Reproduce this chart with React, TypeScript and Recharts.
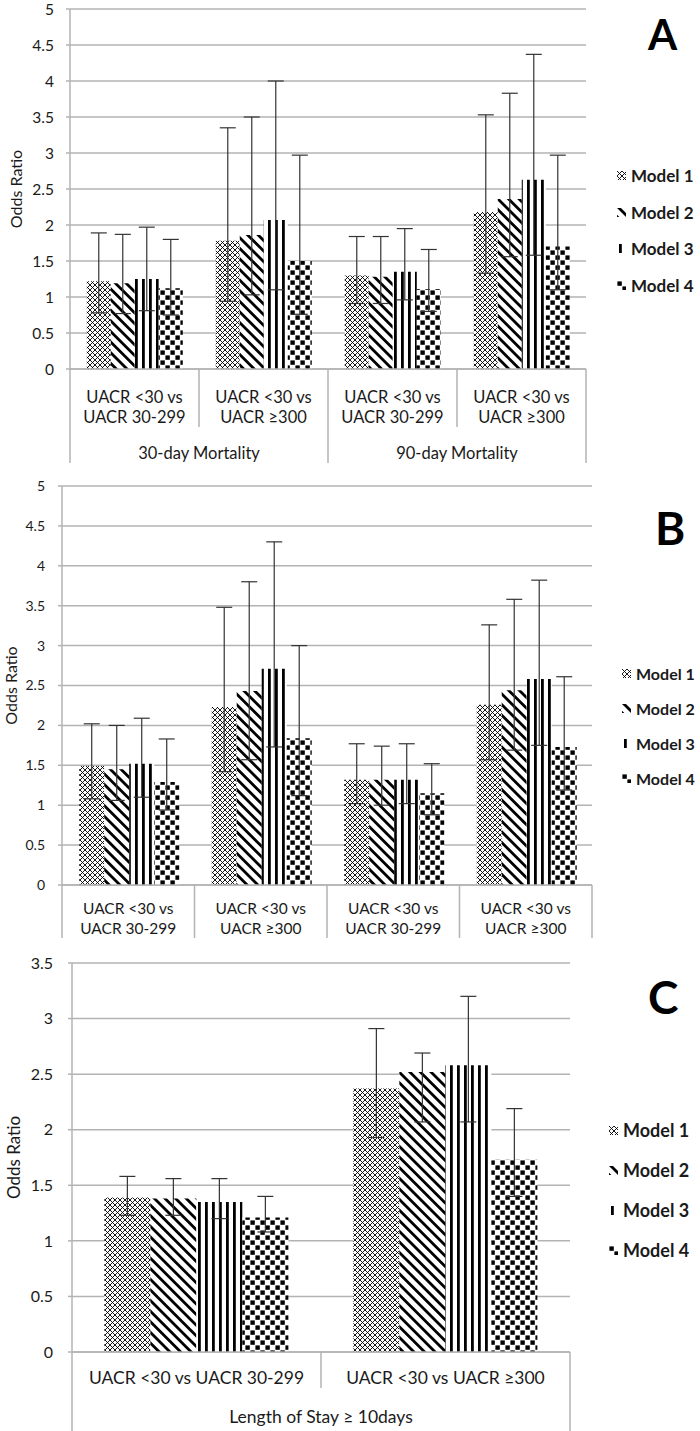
import React from 'react';
import { BarChart, Bar, XAxis, YAxis, CartesianGrid, ErrorBar, Legend, Label } from 'recharts';

const FONT = 'Lato, "Open Sans", sans-serif';
const GRID = '#b3b3b3';
const INK = '#1a1a1a';

const MODELS = ['Model 1', 'Model 2', 'Model 3', 'Model 4'];
const TICKS_AB = [0, 0.5, 1, 1.5, 2, 2.5, 3, 3.5, 4, 4.5, 5];
const TICKS_C = [0, 0.5, 1, 1.5, 2, 2.5, 3, 3.5];

// Panel A: mortality
const A_CATEGORIES = ['UACR <30 vs UACR 30-299', 'UACR <30 vs UACR ≥300', 'UACR <30 vs UACR 30-299', 'UACR <30 vs UACR ≥300'];
const A_GROUPS = ['30-day Mortality', '30-day Mortality', '90-day Mortality', '90-day Mortality'];
const A_M1 = [1.22, 1.78, 1.3, 2.18];
const A_M2 = [1.19, 1.86, 1.28, 2.36];
const A_M3 = [1.25, 2.07, 1.35, 2.63];
const A_M4 = [1.12, 1.5, 1.11, 1.7];
const A_LO = [[0.78, 0.94, 0.91, 1.33], [0.77, 1.03, 0.91, 1.56], [0.81, 1.1, 0.96, 1.58], [0.75, 0.76, 0.8, 1.1]];
const A_HI = [[1.89, 3.35, 1.84, 3.53], [1.87, 3.5, 1.84, 3.83], [1.97, 4.0, 1.95, 4.37], [1.8, 2.97, 1.66, 2.97]];

// Panel B
const B_CATEGORIES = ['UACR <30 vs UACR 30-299', 'UACR <30 vs UACR ≥300', 'UACR <30 vs UACR 30-299', 'UACR <30 vs UACR ≥300'];
const B_M1 = [1.49, 2.23, 1.32, 2.26];
const B_M2 = [1.45, 2.43, 1.32, 2.44];
const B_M3 = [1.52, 2.71, 1.32, 2.58];
const B_M4 = [1.29, 1.84, 1.15, 1.73];
const B_LO = [[1.08, 1.42, 1.02, 1.57], [1.06, 1.57, 1.0, 1.69], [1.1, 1.73, 1.02, 1.75], [0.94, 1.12, 0.88, 1.19]];
const B_HI = [[2.02, 3.48, 1.77, 3.26], [2.0, 3.8, 1.74, 3.58], [2.09, 4.3, 1.77, 3.82], [1.83, 3.0, 1.52, 2.61]];

// Panel C: length of stay
const C_CATEGORIES = ['UACR <30 vs UACR 30-299', 'UACR <30 vs UACR ≥300'];
const C_GROUPS = ['Length of Stay ≥ 10days', 'Length of Stay ≥ 10days'];
const C_M1 = [1.39, 2.37];
const C_M2 = [1.38, 2.52];
const C_M3 = [1.35, 2.58];
const C_M4 = [1.21, 1.73];
const C_LO = [[1.23, 1.93], [1.23, 2.07], [1.2, 2.07], [1.08, 1.4]];
const C_HI = [[1.58, 2.91], [1.56, 2.69], [1.56, 3.2], [1.4, 2.19]];

function buildRows(categories: string[], groups: string[] | null, vals: number[][], lows: number[][], highs: number[][]) {
  return categories.map((cat, i) => {
    const row: any = { cat, group: groups ? groups[i] : '' };
    vals.forEach((v, m) => {
      row[`m${m + 1}`] = v[i];
      row[`e${m + 1}`] = [+(v[i] - lows[m][i]).toFixed(3), +(highs[m][i] - v[i]).toFixed(3)];
    });
    return row;
  });
}

// fill patterns: fine lattice, back-diagonal, vertical stripes, checkerboard
const Patterns = ({ id }: { id: string }) => (
  <defs>
    <pattern id={`${id}-m1`} width={5} height={5} patternUnits="userSpaceOnUse">
      <rect width={5} height={5} fill="#fff" />
      <path d="M0,0L5,5M5,0L0,5" stroke="#000" strokeWidth={0.9} />
    </pattern>
    <pattern id={`${id}-m2`} width={7.5} height={7.5} patternUnits="userSpaceOnUse" patternTransform="rotate(-45)">
      <rect width={7.5} height={7.5} fill="#fff" />
      <rect width={2.8} height={7.5} fill="#000" />
    </pattern>
    <pattern id={`${id}-m3`} width={7} height={7} patternUnits="userSpaceOnUse">
      <rect width={7} height={7} fill="#fff" />
      <rect x={2} width={2.8} height={7} fill="#000" />
    </pattern>
    <pattern id={`${id}-m4`} width={10} height={10} patternUnits="userSpaceOnUse">
      <rect width={10} height={10} fill="#fff" />
      <rect x={0.4} y={0.4} width={4.4} height={4.4} fill="#000" />
      <rect x={5.4} y={5.4} width={4.4} height={4.4} fill="#000" />
    </pattern>
  </defs>
);

const CatTick = (props: any) => {
  const { x, y, payload, index, band, dividers, lines, fontSize } = props;
  const text: string = payload.value;
  const cut = text.indexOf(' vs ') + 3;
  const rows = lines.length === 2 ? [text.slice(0, cut), text.slice(cut + 1)] : [text];
  const left = x - band / 2;
  const last = index === dividers.length - 2;
  return (
    <g>
      <line x1={left} x2={left} y1={y} y2={y + dividers[index]} stroke={GRID} strokeWidth={1.5} />
      {last && <line x1={x + band / 2} x2={x + band / 2} y1={y} y2={y + dividers[index + 1]} stroke={GRID} strokeWidth={1.5} />}
      <text textAnchor="middle" fontSize={fontSize} fontFamily={FONT} fill={INK}>
        {rows.map((r, i) => (
          <tspan key={i} x={x} y={y + lines[i]}>{r}</tspan>
        ))}
      </text>
    </g>
  );
};

const GroupTick = (props: any) => {
  const { x, y, payload, dy, fontSize } = props;
  return (
    <text x={x} y={y + dy} textAnchor="middle" fontSize={fontSize} fontFamily={FONT} fill={INK}>
      {payload.value}
    </text>
  );
};

const ModelLegend = (props: any) => {
  const { payload, id, gap, fontSize } = props;
  return (
    <div style={{ fontFamily: FONT, fontSize, fontWeight: 700, color: INK }}>
      {(payload || []).map((p: any, i: number) => (
        <div key={i} style={{ height: gap, display: 'flex', alignItems: 'center' }}>
          <svg width={9} height={9} style={{ marginRight: 5 }}>
            <rect width={9} height={9} fill={`url(#${id}-m${i + 1})`} />
          </svg>
          <span>{p.value}</span>
        </div>
      ))}
    </div>
  );
};

interface PanelCfg {
  id: string;
  letter: string;
  top: number;
  height: number;
  margin: { top: number; right: number; left: number; bottom: number };
  yWidth: number;
  yMax: number;
  ticks: number[];
  tickMargin: number;
  tickFont: number;
  catHeight: number;
  catLines: number[];
  catFont: number;
  dividers: number[];
  groupHeight: number;
  groupDy: number;
  groupFont: number;
  titleX: number;
  titleFont: number;
  legend: { left: number; top: number; gap: number; font: number };
  letterPos: { left: number; top: number; size: number };
}

const Panel = ({ cfg, rows, hasGroups }: { cfg: PanelCfg; rows: any[]; hasGroups: boolean }) => {
  const plotW = 700 - cfg.margin.left - cfg.margin.right - cfg.yWidth;
  const plotH = cfg.height - cfg.margin.top - cfg.margin.bottom - cfg.catHeight - (hasGroups ? cfg.groupHeight : 0);
  const band = plotW / rows.length;
  const titleY = cfg.margin.top + plotH / 2;
  return (
    <div style={{ position: 'absolute', left: 0, top: cfg.top, width: 700, height: cfg.height }}>
      <BarChart width={700} height={cfg.height} data={rows} margin={cfg.margin} barCategoryGap="13%" barGap={0}>
        <Patterns id={cfg.id} />
        <CartesianGrid vertical={false} stroke={GRID} strokeWidth={1.5} />
        <XAxis
          dataKey="cat"
          height={cfg.catHeight}
          interval={0}
          tickLine={false}
          tickSize={0}
          tickMargin={0}
          axisLine={{ stroke: GRID, strokeWidth: 1.5 }}
          tick={<CatTick band={band} dividers={cfg.dividers} lines={cfg.catLines} fontSize={cfg.catFont} />}
        />
        {hasGroups && (
          <XAxis
            xAxisId="grp"
            dataKey="group"
            allowDuplicatedCategory={false}
            height={cfg.groupHeight}
            interval={0}
            tickLine={false}
            tickSize={0}
            tickMargin={0}
            axisLine={false}
            tick={<GroupTick dy={cfg.groupDy} fontSize={cfg.groupFont} />}
          />
        )}
        <YAxis
          domain={[0, cfg.yMax]}
          ticks={cfg.ticks}
          interval={0}
          width={cfg.yWidth}
          tickSize={4}
          tickMargin={cfg.tickMargin}
          axisLine={{ stroke: GRID, strokeWidth: 1.5 }}
          tickLine={{ stroke: GRID, strokeWidth: 1.5 }}
          tick={{ fill: INK, fontSize: cfg.tickFont, fontFamily: FONT }}
        >
          <Label
            content={() => (
              <text
                x={cfg.titleX}
                y={titleY}
                transform={`rotate(-90 ${cfg.titleX} ${titleY})`}
                textAnchor="middle"
                dominantBaseline="central"
                fontSize={cfg.titleFont}
                fontFamily={FONT}
                fill={INK}
              >
                Odds Ratio
              </text>
            )}
          />
        </YAxis>
        {MODELS.map((name, m) => (
          <Bar key={name} dataKey={`m${m + 1}`} name={name} fill={`url(#${cfg.id}-m${m + 1})`} isAnimationActive={false}>
            <ErrorBar dataKey={`e${m + 1}`} width={8} stroke="#333" strokeWidth={1.2} direction="y" isAnimationActive={false} />
          </Bar>
        ))}
        <Legend
          layout="vertical"
          align="center"
          verticalAlign="middle"
          wrapperStyle={{ left: cfg.legend.left, top: cfg.legend.top, width: 90 }}
          content={<ModelLegend id={cfg.id} gap={cfg.legend.gap} fontSize={cfg.legend.font} />}
        />
      </BarChart>
      <div
        style={{
          position: 'absolute',
          left: cfg.letterPos.left,
          top: cfg.letterPos.top,
          fontFamily: FONT,
          fontWeight: 700,
          fontSize: cfg.letterPos.size,
          lineHeight: 1,
          color: '#000',
        }}
      >
        {cfg.letter}
      </div>
    </div>
  );
};

const CFG_A: PanelCfg = {
  id: 'pa', letter: 'A', top: 0, height: 470,
  margin: { top: 9, right: 114, left: 10, bottom: 0 },
  yWidth: 60, yMax: 5, ticks: TICKS_AB, tickMargin: 12, tickFont: 15.5,
  catHeight: 58, catLines: [34, 54], catFont: 16.5, dividers: [94, 58, 94, 58, 94],
  groupHeight: 43, groupDy: 32, groupFont: 16.5,
  titleX: 15, titleFont: 16,
  legend: { left: 617, top: 157, gap: 36.7, font: 17 },
  letterPos: { left: 648, top: 13, size: 42 },
};

const CFG_B: PanelCfg = {
  id: 'pb', letter: 'B', top: 470, height: 470,
  margin: { top: 16, right: 108, left: 7, bottom: 0 },
  yWidth: 55, yMax: 5, ticks: TICKS_AB, tickMargin: 13, tickFont: 14,
  catHeight: 55, catLines: [29, 49], catFont: 15.5, dividers: [53, 53, 53, 53, 53],
  groupHeight: 0, groupDy: 0, groupFont: 15,
  titleX: 10, titleFont: 16,
  legend: { left: 622, top: 185.5, gap: 35, font: 16 },
  letterPos: { left: 655, top: 35, size: 46 },
};

const CFG_C: PanelCfg = {
  id: 'pc', letter: 'C', top: 940, height: 491,
  margin: { top: 23, right: 130, left: 12, bottom: 0 },
  yWidth: 60, yMax: 3.5, ticks: TICKS_C, tickMargin: 15, tickFont: 16,
  catHeight: 36, catLines: [32], catFont: 17.5, dividers: [79, 36, 79],
  groupHeight: 43, groupDy: 35, groupFont: 17.5,
  titleX: 13, titleFont: 17,
  legend: { left: 609, top: 170, gap: 40, font: 18 },
  letterPos: { left: 648, top: 34, size: 46 },
};

export default function App() {
  const rowsA = buildRows(A_CATEGORIES, A_GROUPS, [A_M1, A_M2, A_M3, A_M4], A_LO, A_HI);
  const rowsB = buildRows(B_CATEGORIES, null, [B_M1, B_M2, B_M3, B_M4], B_LO, B_HI);
  const rowsC = buildRows(C_CATEGORIES, C_GROUPS, [C_M1, C_M2, C_M3, C_M4], C_LO, C_HI);
  return (
    <div style={{ position: 'absolute', left: 0, top: 0, width: 700, height: 1431, background: '#fff', overflow: 'hidden' }}>
      <Panel cfg={CFG_A} rows={rowsA} hasGroups />
      <Panel cfg={CFG_B} rows={rowsB} hasGroups={false} />
      <Panel cfg={CFG_C} rows={rowsC} hasGroups />
    </div>
  );
}
